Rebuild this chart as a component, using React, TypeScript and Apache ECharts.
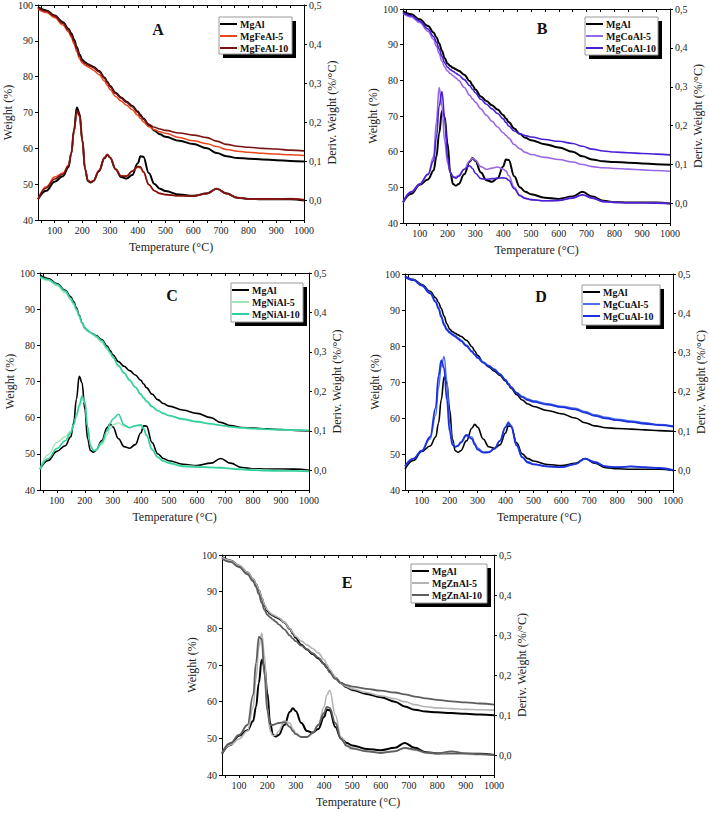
import React, { useEffect, useRef } from "react";
import * as echarts from "echarts";

// Temperature grid (°C)
const temps = [40, 70, 100, 130, 150, 160, 170, 180, 190, 200, 210, 220, 230, 240, 260, 280, 290, 300, 320, 340, 360, 380, 400, 410, 420, 440, 460, 480, 500, 550, 600, 650, 685, 720, 760, 800, 850, 900, 950, 1000];

const xLabelValues = [100, 200, 300, 400, 500, 600, 700, 800, 900, 1000];
const xTickValues = [50, 100, 150, 200, 250, 300, 350, 400, 450, 500, 550, 600, 650, 700, 750, 800, 850, 900, 950, 1000];
const derivTickValues = [0, 0.1, 0.2, 0.3, 0.4, 0.5];
const panelLetters = ["A", "B", "C", "D", "E"];

// MgAl (reference sample, shown in every panel)
const mgAlTG = [99.4, 98.5, 97.1, 95.2, 93.4, 92.1, 90.4, 88.3, 86.2, 84.7, 84.0, 83.5, 83.1, 82.7, 81.6, 79.8, 78.6, 77.4, 75.5, 74.2, 73.0, 71.8, 70.3, 69.3, 68.3, 66.5, 65.0, 63.9, 63.2, 62.1, 61.2, 60.0, 58.7, 57.8, 57.3, 57.1, 56.9, 56.7, 56.5, 56.3];
const mgAlDTG = [0.003, 0.025, 0.048, 0.062, 0.085, 0.12, 0.18, 0.238, 0.222, 0.155, 0.08, 0.05, 0.046, 0.05, 0.075, 0.108, 0.117, 0.11, 0.08, 0.06, 0.056, 0.065, 0.095, 0.113, 0.112, 0.07, 0.042, 0.03, 0.024, 0.015, 0.012, 0.018, 0.03, 0.018, 0.007, 0.004, 0.003, 0.003, 0.003, 0.0];

// Fe
const mgFeAl5TG = [98.9, 97.9, 96.5, 94.4, 92.5, 91.0, 89.2, 87.0, 85.0, 83.8, 83.2, 82.8, 82.3, 81.8, 80.6, 78.8, 77.6, 76.4, 74.5, 73.2, 72.0, 70.8, 69.2, 68.3, 67.4, 66.0, 65.2, 64.6, 64.2, 63.0, 62.1, 61.3, 60.5, 59.7, 59.2, 58.9, 58.6, 58.4, 58.2, 58.0];
const mgFeAl10TG = [99.2, 98.3, 96.9, 94.9, 93.0, 91.6, 89.9, 87.8, 85.7, 84.3, 83.7, 83.3, 82.9, 82.5, 81.4, 79.6, 78.4, 77.2, 75.3, 74.0, 72.8, 71.6, 70.0, 69.0, 68.1, 66.7, 65.9, 65.4, 65.0, 64.3, 63.7, 63.0, 62.0, 61.1, 60.6, 60.3, 60.0, 59.8, 59.5, 59.3];
const mgFeAl5DTG = [0.003, 0.035, 0.06, 0.07, 0.09, 0.12, 0.175, 0.225, 0.215, 0.15, 0.08, 0.052, 0.047, 0.05, 0.077, 0.11, 0.118, 0.11, 0.08, 0.063, 0.063, 0.075, 0.085, 0.083, 0.072, 0.04, 0.025, 0.018, 0.015, 0.012, 0.011, 0.018, 0.03, 0.018, 0.007, 0.004, 0.004, 0.004, 0.005, 0.002];
const mgFeAl10DTG = [0.003, 0.032, 0.055, 0.067, 0.088, 0.12, 0.178, 0.23, 0.218, 0.152, 0.08, 0.051, 0.047, 0.05, 0.076, 0.109, 0.117, 0.11, 0.08, 0.062, 0.062, 0.075, 0.087, 0.086, 0.074, 0.041, 0.025, 0.018, 0.015, 0.012, 0.011, 0.018, 0.03, 0.018, 0.007, 0.004, 0.004, 0.004, 0.004, 0.002];

// Co
const mgCoAl5TG = [98.8, 97.8, 96.2, 93.8, 91.5, 89.6, 87.5, 85.4, 83.7, 82.6, 81.9, 81.3, 80.7, 80.0, 78.0, 75.8, 74.8, 73.9, 72.0, 70.2, 68.5, 66.9, 65.3, 64.6, 63.8, 62.0, 60.8, 59.8, 59.2, 58.4, 57.8, 57.1, 56.4, 55.8, 55.5, 55.3, 55.1, 54.9, 54.7, 54.5];
const mgCoAl10TG = [99.0, 98.1, 96.6, 94.4, 92.3, 90.7, 88.8, 86.7, 84.9, 83.7, 83.0, 82.5, 82.0, 81.5, 80.2, 78.5, 77.5, 76.5, 74.7, 73.3, 72.0, 70.7, 69.2, 68.2, 67.2, 65.8, 65.0, 64.5, 64.1, 63.4, 62.9, 62.3, 61.5, 60.7, 60.2, 59.9, 59.7, 59.5, 59.3, 59.1];
const mgCoAl5DTG = [0.003, 0.03, 0.05, 0.075, 0.12, 0.21, 0.298, 0.25, 0.16, 0.105, 0.08, 0.07, 0.068, 0.072, 0.088, 0.11, 0.117, 0.112, 0.095, 0.088, 0.091, 0.094, 0.088, 0.084, 0.072, 0.042, 0.022, 0.014, 0.01, 0.007, 0.008, 0.015, 0.023, 0.015, 0.005, 0.003, 0.002, 0.002, 0.001, 0.0];
const mgCoAl10DTG = [0.003, 0.03, 0.05, 0.075, 0.11, 0.17, 0.25, 0.288, 0.22, 0.12, 0.08, 0.068, 0.065, 0.07, 0.088, 0.097, 0.09, 0.078, 0.064, 0.062, 0.064, 0.065, 0.066, 0.065, 0.06, 0.038, 0.02, 0.013, 0.01, 0.007, 0.008, 0.014, 0.022, 0.014, 0.005, 0.003, 0.002, 0.002, 0.001, 0.0];

// Ni
const mgNiAl5TG = [98.8, 97.9, 96.5, 94.5, 92.5, 91.2, 89.6, 87.8, 86.0, 84.7, 83.9, 83.3, 82.8, 82.2, 80.8, 78.8, 77.7, 76.5, 74.2, 72.2, 70.2, 68.3, 66.3, 65.3, 64.4, 62.9, 61.9, 61.1, 60.5, 59.5, 58.8, 58.2, 57.8, 57.4, 57.1, 56.9, 56.7, 56.6, 56.5, 56.4];
const mgNiAl10TG = [99.0, 98.2, 96.9, 95.0, 93.0, 91.7, 90.0, 88.2, 86.3, 85.0, 84.2, 83.6, 83.1, 82.6, 81.3, 79.3, 78.1, 76.8, 74.4, 72.4, 70.4, 68.5, 66.5, 65.5, 64.6, 63.1, 62.0, 61.2, 60.6, 59.6, 58.9, 58.3, 57.9, 57.5, 57.2, 57.0, 56.8, 56.7, 56.6, 56.5];
const mgNiAl5DTG = [0.003, 0.04, 0.07, 0.085, 0.1, 0.115, 0.135, 0.16, 0.18, 0.17, 0.11, 0.065, 0.05, 0.05, 0.065, 0.09, 0.105, 0.115, 0.12, 0.112, 0.108, 0.112, 0.113, 0.105, 0.09, 0.055, 0.035, 0.025, 0.02, 0.012, 0.01, 0.008, 0.008, 0.005, 0.003, 0.002, 0.001, 0.0, -0.001, -0.002];
const mgNiAl10DTG = [0.003, 0.03, 0.055, 0.075, 0.095, 0.115, 0.14, 0.165, 0.188, 0.175, 0.11, 0.062, 0.05, 0.052, 0.07, 0.1, 0.118, 0.13, 0.142, 0.115, 0.108, 0.113, 0.115, 0.105, 0.088, 0.052, 0.033, 0.023, 0.018, 0.01, 0.008, 0.007, 0.006, 0.004, 0.002, 0.0, -0.001, -0.002, -0.002, -0.003];

// Cu
const mgCuAl5TG = [99.3, 98.4, 96.9, 94.8, 92.5, 90.8, 88.5, 86.3, 84.8, 84.0, 83.4, 82.9, 82.3, 81.7, 80.3, 78.6, 77.7, 76.9, 75.6, 74.6, 73.6, 72.3, 70.7, 69.7, 68.7, 67.1, 66.0, 65.3, 64.8, 64.0, 63.3, 62.7, 61.8, 60.9, 60.2, 59.7, 59.2, 58.7, 58.2, 57.8];
const mgCuAl10TG = [99.2, 98.3, 96.8, 94.6, 92.2, 90.4, 88.0, 85.8, 84.4, 83.7, 83.1, 82.6, 82.0, 81.4, 80.0, 78.4, 77.5, 76.7, 75.4, 74.4, 73.4, 72.1, 70.5, 69.5, 68.5, 66.9, 65.8, 65.0, 64.5, 63.7, 63.0, 62.4, 61.5, 60.6, 59.9, 59.4, 58.9, 58.4, 58.0, 57.6];
const mgCuAl5DTG = [0.012, 0.03, 0.05, 0.08, 0.14, 0.21, 0.265, 0.29, 0.23, 0.12, 0.07, 0.06, 0.062, 0.07, 0.088, 0.085, 0.07, 0.057, 0.047, 0.047, 0.055, 0.075, 0.11, 0.123, 0.115, 0.065, 0.035, 0.022, 0.016, 0.01, 0.008, 0.016, 0.03, 0.022, 0.01, 0.008, 0.01, 0.007, 0.005, 0.002];
const mgCuAl10DTG = [0.01, 0.03, 0.05, 0.085, 0.16, 0.24, 0.28, 0.26, 0.18, 0.1, 0.065, 0.06, 0.063, 0.072, 0.09, 0.08, 0.065, 0.053, 0.045, 0.046, 0.055, 0.075, 0.11, 0.12, 0.112, 0.063, 0.033, 0.02, 0.015, 0.01, 0.008, 0.016, 0.03, 0.02, 0.01, 0.008, 0.01, 0.008, 0.006, 0.0];

// Zn
const mgZnAl5TG = [99.3, 98.5, 97.2, 95.3, 93.5, 92.2, 90.6, 88.5, 86.5, 85.0, 84.2, 83.7, 83.3, 82.9, 81.7, 79.9, 78.8, 77.8, 76.5, 75.5, 74.5, 73.3, 71.5, 70.2, 68.8, 66.5, 65.0, 64.1, 63.5, 62.5, 61.6, 60.8, 60.0, 59.2, 58.6, 58.3, 58.1, 57.9, 57.8, 57.7];
const mgZnAl10TG = [99.0, 98.1, 96.7, 94.7, 92.8, 91.3, 89.3, 87.0, 85.0, 83.7, 83.0, 82.4, 81.8, 81.1, 79.7, 78.0, 77.2, 76.5, 75.3, 74.3, 73.2, 72.0, 70.3, 69.2, 68.0, 66.2, 65.1, 64.5, 64.1, 63.5, 63.0, 62.5, 62.0, 61.4, 60.9, 60.5, 60.1, 59.8, 59.5, 59.2];
const mgZnAl5DTG = [0.005, 0.025, 0.04, 0.06, 0.12, 0.19, 0.27, 0.305, 0.25, 0.12, 0.06, 0.048, 0.05, 0.06, 0.085, 0.08, 0.065, 0.055, 0.045, 0.045, 0.055, 0.075, 0.12, 0.15, 0.162, 0.1, 0.045, 0.025, 0.018, 0.01, 0.006, 0.01, 0.017, 0.012, 0.005, 0.003, 0.002, 0.002, 0.001, 0.0];
const mgZnAl10DTG = [0.005, 0.03, 0.05, 0.075, 0.15, 0.23, 0.295, 0.29, 0.2, 0.11, 0.075, 0.075, 0.078, 0.08, 0.082, 0.07, 0.06, 0.052, 0.045, 0.045, 0.055, 0.075, 0.105, 0.12, 0.118, 0.08, 0.04, 0.023, 0.016, 0.009, 0.005, 0.009, 0.018, 0.014, 0.006, 0.004, 0.009, 0.004, 0.002, 0.0];

type Sample = { name: string; tg: number[]; dtg: number[]; color: string; width: number };

const panels: Sample[][] = [
  [
    { name: "MgAl", tg: mgAlTG, dtg: mgAlDTG, color: "#000000", width: 2 },
    { name: "MgFeAl-5", tg: mgFeAl5TG, dtg: mgFeAl5DTG, color: "#e8461c", width: 1.5 },
    { name: "MgFeAl-10", tg: mgFeAl10TG, dtg: mgFeAl10DTG, color: "#7a1212", width: 1.6 },
  ],
  [
    { name: "MgAl", tg: mgAlTG, dtg: mgAlDTG, color: "#000000", width: 2 },
    { name: "MgCoAl-5", tg: mgCoAl5TG, dtg: mgCoAl5DTG, color: "#9a68e6", width: 1.6 },
    { name: "MgCoAl-10", tg: mgCoAl10TG, dtg: mgCoAl10DTG, color: "#4a20d4", width: 1.6 },
  ],
  [
    { name: "MgAl", tg: mgAlTG, dtg: mgAlDTG, color: "#000000", width: 1.6 },
    { name: "MgNiAl-5", tg: mgNiAl5TG, dtg: mgNiAl5DTG, color: "#9ee6b4", width: 1.3 },
    { name: "MgNiAl-10", tg: mgNiAl10TG, dtg: mgNiAl10DTG, color: "#2fd0a0", width: 1.6 },
  ],
  [
    { name: "MgAl", tg: mgAlTG, dtg: mgAlDTG, color: "#000000", width: 1.6 },
    { name: "MgCuAl-5", tg: mgCuAl5TG, dtg: mgCuAl5DTG, color: "#4a72e6", width: 1.4 },
    { name: "MgCuAl-10", tg: mgCuAl10TG, dtg: mgCuAl10DTG, color: "#1a30dc", width: 1.8 },
  ],
  [
    { name: "MgAl", tg: mgAlTG, dtg: mgAlDTG, color: "#000000", width: 2 },
    { name: "MgZnAl-5", tg: mgZnAl5TG, dtg: mgZnAl5DTG, color: "#b4b4b4", width: 1.6 },
    { name: "MgZnAl-10", tg: mgZnAl10TG, dtg: mgZnAl10DTG, color: "#5e5e5e", width: 1.8 },
  ],
];

const grids = [
  { left: 38, top: 5, width: 266, height: 215 },
  { left: 403, top: 9, width: 267, height: 214 },
  { left: 40, top: 273, width: 269, height: 217 },
  { left: 405, top: 274, width: 268, height: 216 },
  { left: 222, top: 555, width: 272, height: 220 },
];
const legendBox = [
  { x: 219, y: 17, w: 73, h: 37 },
  { x: 585, y: 17, w: 73, h: 38 },
  { x: 231, y: 283, w: 72, h: 39 },
  { x: 582, y: 285, w: 78, h: 40 },
  { x: 411, y: 564, w: 76, h: 39 },
];
const letterPos = [
  { x: 158, y: 29 },
  { x: 542, y: 28 },
  { x: 172, y: 295 },
  { x: 541, y: 296 },
  { x: 347, y: 582 },
];

const FONT = "Liberation Serif";

function buildOption() {
  const xAxis: any[] = [];
  const yAxis: any[] = [];
  const series: any[] = [];
  const legend: any[] = [];
  const graphic: any[] = [];
  const axisLabelStyle = { color: "#222", fontFamily: FONT, fontSize: 10 };
  const nameStyle = { color: "#222", fontFamily: FONT, fontSize: 12 };
  const lineAxis = { show: true, onZero: false, lineStyle: { color: "#000", width: 1 } };

  panels.forEach((samples, p) => {
    xAxis.push({
      type: "value",
      gridIndex: p,
      min: 40,
      max: 1000,
      position: "bottom",
      name: "Temperature (°C)",
      nameLocation: "middle",
      nameGap: 21,
      nameTextStyle: nameStyle,
      axisLine: lineAxis,
      axisTick: { show: true, length: 3, inside: false, customValues: xTickValues, lineStyle: { color: "#000" } },
      axisLabel: { ...axisLabelStyle, margin: 5, customValues: xLabelValues, formatter: (v: number) => String(v) },
      splitLine: { show: false },
    });
    xAxis.push({
      type: "value",
      gridIndex: p,
      min: 40,
      max: 1000,
      position: "top",
      axisLine: lineAxis,
      axisTick: { show: true, length: 3, inside: true, customValues: xTickValues, lineStyle: { color: "#000" } },
      axisLabel: { show: false },
      splitLine: { show: false },
    });
    yAxis.push({
      type: "value",
      gridIndex: p,
      min: 40,
      max: 100,
      interval: 10,
      position: "left",
      name: "Weight (%)",
      nameLocation: "middle",
      nameGap: 23,
      nameRotate: 90,
      nameTextStyle: nameStyle,
      axisLine: lineAxis,
      axisTick: { show: true, length: 3, lineStyle: { color: "#000" } },
      axisLabel: { ...axisLabelStyle, margin: 5 },
      splitLine: { show: false },
    });
    yAxis.push({
      type: "value",
      gridIndex: p,
      min: -0.05,
      max: 0.5,
      position: "right",
      name: "Deriv. Weight (%/°C)",
      nameLocation: "middle",
      nameGap: 22,
      nameRotate: 90,
      nameTextStyle: nameStyle,
      axisLine: lineAxis,
      axisTick: { show: true, length: 3, customValues: derivTickValues, lineStyle: { color: "#000" } },
      axisLabel: {
        ...axisLabelStyle,
        margin: 5,
        customValues: derivTickValues,
        formatter: (v: number) => v.toFixed(1).replace(".", ","),
      },
      splitLine: { show: false },
    });

    samples.forEach((s) => {
      const common = {
        type: "line",
        name: s.name,
        xAxisIndex: p * 2,
        showSymbol: false,
        symbol: "none",
        smooth: 0.4,
        smoothMonotone: "x",
        lineStyle: { color: s.color, width: s.width },
        itemStyle: { color: s.color },
        emphasis: { disabled: true },
        silent: true,
      };
      series.push({ ...common, yAxisIndex: p * 2, data: temps.map((t, i) => [t, s.tg[i]]) });
      series.push({ ...common, yAxisIndex: p * 2 + 1, data: temps.map((t, i) => [t, s.dtg[i]]) });
    });

    const b = legendBox[p];
    // legend frame with hard black drop shadow
    graphic.push({
      type: "rect",
      z: 20,
      shape: { x: b.x + 4, y: b.y + 4, width: b.w, height: b.h },
      style: { fill: "#000" },
      silent: true,
    });
    graphic.push({
      type: "rect",
      z: 21,
      shape: { x: b.x, y: b.y, width: b.w, height: b.h },
      style: { fill: "#fff", stroke: "#9a9a9a", lineWidth: 1 },
      silent: true,
    });

    legend.push({
      z: 30,
      left: b.x + 1,
      top: b.y + 1,
      orient: "vertical",
      data: samples.map((s) => ({ name: s.name, itemStyle: { color: s.color } })),
      icon: "rect",
      itemWidth: 17,
      itemHeight: 2,
      itemGap: 0,
      padding: 0,
      selectedMode: false,
      textStyle: { fontFamily: FONT, fontWeight: "bold", fontSize: 10, color: "#111", lineHeight: 12, padding: [0, 0, 0, -2] },
    });

    graphic.push({
      type: "text",
      x: letterPos[p].x,
      y: letterPos[p].y,
      style: {
        text: panelLetters[p],
        fill: "#111",
        font: `bold 16px ${FONT}`,
        textAlign: "center",
        textVerticalAlign: "middle",
      },
    });
  });

  return {
    animation: false,
    backgroundColor: "#fff",
    grid: grids.map((g) => ({ ...g, containLabel: false, show: false })),
    xAxis,
    yAxis,
    series,
    legend,
    graphic,
  };
}

export default function App() {
  const ref = useRef<HTMLDivElement>(null);
  useEffect(() => {
    if (!ref.current) return;
    const chart = echarts.init(ref.current, null, { renderer: "svg" });
    chart.setOption(buildOption() as any);
    return () => chart.dispose();
  }, []);
  return (
    <div
      ref={ref}
      style={{ position: "fixed", left: 0, top: 0, width: 709, height: 813, background: "#fff" }}
    />
  );
}
